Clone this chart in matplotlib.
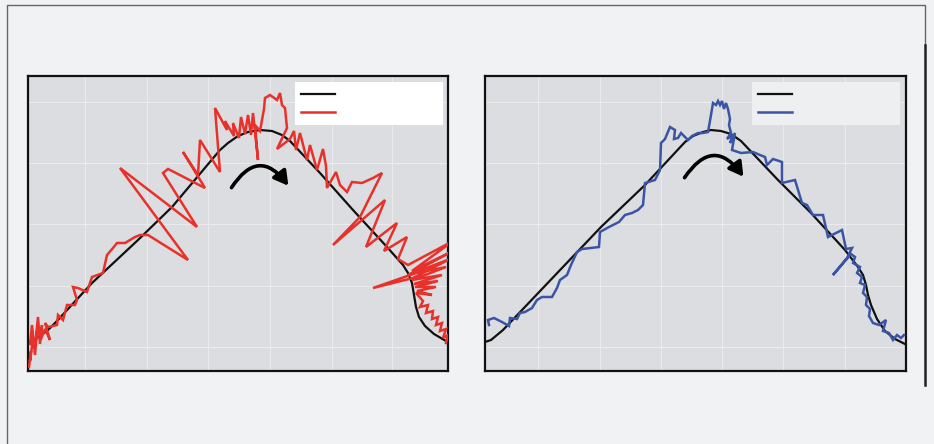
import matplotlib
matplotlib.use("Agg")
import matplotlib.pyplot as plt
from matplotlib.lines import Line2D
from matplotlib.patches import FancyArrowPatch

# reference path and tracked paths, in mm (axes span about 420 x 295)
ref_left_x = [1, 6, 12, 20, 28, 64, 110, 144, 192, 200, 210, 220, 232, 244,
              254, 262, 292, 325, 359, 375, 380, 384, 386, 388, 391, 397, 406, 418]
ref_left_y = [29, 31, 35, 41, 49, 88, 131, 164, 221, 228, 235, 239, 241, 240,
              236, 230, 198, 161, 124, 106, 98, 88, 76, 64, 54, 45, 37, 30]

ref_right_x = [0, 6, 12, 18, 116, 160, 200, 208, 218, 226, 236, 246, 256, 293,
               326, 360, 373, 378, 381, 383, 386, 392, 400, 410, 420]
ref_right_y = [29, 31, 36, 41, 144, 186, 229, 235, 239, 241, 240, 237, 230, 191,
               158, 121, 104, 96, 86, 76, 66, 52, 40, 32, 27]

red_x = [1, 3, 2, 5, 2, 4, 7, 9, 7, 10, 12, 14, 13, 17, 22, 17, 20,
         29, 30, 35, 39, 47, 49, 45, 50, 59, 64, 75, 79, 85, 89, 97, 107, 112, 120,
         160, 92, 169, 135, 140, 146, 177, 155, 170, 172, 192, 187,
         199, 197, 206, 205, 211, 213, 217, 220, 223, 225, 230, 227, 232,
         236, 237, 242, 249, 252, 254, 257, 259,
         249, 262, 266, 268, 272, 279, 282, 289, 295, 298, 299, 308, 312, 319,
         324, 334, 345, 354,
         332, 305, 357, 338, 369, 356, 379, 370,
         380, 425, 384, 425, 380, 422, 385, 345, 388, 418, 384, 414, 386, 410,
         387, 408, 389, 404, 388, 395, 392, 400, 398, 405, 404, 410, 408, 414,
         412, 418, 415, 420, 418]
red_y = [4, 20, 10, 32, 26, 46, 16, 40, 24, 54, 27, 46, 32, 42, 31, 48, 44,
         46, 56, 51, 66, 66, 71, 84, 83, 79, 94, 98, 116, 123, 128, 128, 134, 136, 136,
         111, 203, 144, 198, 202, 199, 183, 219, 196, 231, 199, 263,
         241, 250, 235, 248, 233, 254, 237, 256, 236, 258, 211, 246, 240,
         262, 273, 276, 271, 278, 266, 263, 243,
         222, 232, 240, 221, 238, 211, 226, 201, 222, 205, 183, 199, 186, 179,
         189, 188, 193, 198,
         154, 126, 171, 124, 148, 120, 134, 112,
         106, 130, 100, 120, 96, 112, 93, 83, 98, 104, 91, 96, 87, 90,
         84, 84, 80, 76, 78, 70, 64, 66, 58, 60, 52, 54, 46, 48,
         40, 42, 33, 36, 28]

blue_x = [4, 3, 9, 17, 24, 25, 32, 35, 40, 47, 52, 57, 67, 72, 75, 82, 86, 92,
          97, 114, 115, 124, 134, 140, 147, 153, 158, 160, 170, 175, 176, 180,
          185, 190, 189, 193, 196, 203, 207, 213, 218, 223, 226, 228, 231, 233,
          235, 237, 239, 241, 243, 245, 244, 246, 242, 248, 245, 250, 247, 256,
          268, 275, 280, 282, 288, 297, 297, 310, 317, 322, 328, 338, 343, 357,
          361, 367, 362, 348, 366, 370, 368, 375, 372, 377, 375, 380, 378, 382,
          381, 385, 384, 388, 394, 401, 398, 404, 408, 412, 416, 419]
blue_y = [46, 51, 53, 49, 45, 53, 52, 58, 59, 63, 71, 74, 74, 83, 91, 96, 106,
          119, 122, 124, 139, 144, 149, 156, 158, 161, 166, 188, 191, 201, 228,
          232, 244, 241, 232, 233, 238, 231, 235, 238, 238, 239, 256, 268, 266,
          270, 266, 270, 262, 268, 262, 252, 246, 238, 232, 236, 228, 238, 221,
          218, 219, 216, 214, 206, 212, 209, 188, 191, 168, 166, 156, 156, 134,
          141, 122, 123, 113, 96, 117, 114, 108, 104, 98, 94, 88, 86, 78, 74,
          66, 62, 55, 48, 46, 51, 40, 38, 31, 36, 33, 36]

grid_left_x = [57, 119, 180, 242, 304, 364]
grid_right_x = [53, 115, 176, 237, 298, 360]
grid_y = [24, 85, 147, 208, 269]

# curved arrows: start, end
arrow_left = ((202, 181), (262, 183))
arrow_right = ((198, 191), (260, 192))

BG = '#f1f2f4'
AX_BG = '#dcdde0'
RED = '#e8312a'
BLUE = '#3a55a6'

fig = plt.figure(figsize=(9.34, 4.44), dpi=100, facecolor=BG)


def panel(rect, width, rx, ry, tx, ty, color, gx, arrow, legend_face):
    ax = fig.add_axes(rect)
    ax.set_facecolor(AX_BG)
    ax.set_xlim(0, width)
    ax.set_ylim(0, 295)
    ax.set_xticks(gx)
    ax.set_yticks(grid_y)
    ax.set_xticklabels([])
    ax.set_yticklabels([])
    ax.tick_params(length=0)
    ax.grid(color='#eaebed', linewidth=0.8)
    ax.set_axisbelow(True)
    for s in ax.spines.values():
        s.set_linewidth(1.6)
        s.set_color('#111111')
    ax.plot(rx, ry, color='#111111', lw=1.6, label=' ', zorder=3)
    ax.plot(tx, ty, color=color, lw=1.8, label=' ', zorder=4,
            solid_joinstyle='miter')
    arr = FancyArrowPatch(arrow[0], arrow[1], connectionstyle='arc3,rad=-0.75',
                          arrowstyle='-|>,head_length=0.7,head_width=0.4',
                          mutation_scale=12, lw=2.6, color='black', zorder=5)
    ax.add_patch(arr)
    leg = ax.legend(loc='upper left', mode='expand',
                    bbox_to_anchor=(267 / width, 243 / 295, 148 / width, 46 / 295),
                    borderaxespad=0, fontsize=10, handlelength=2.5,
                    borderpad=0.4, labelspacing=0.3, fancybox=False,
                    framealpha=1, facecolor=legend_face, edgecolor=legend_face)
    leg.get_frame().set_linewidth(0)
    return ax


panel([28 / 934, 1 - 371 / 444, 420 / 934, 295 / 444], 420,
      ref_left_x, ref_left_y, red_x, red_y, RED, grid_left_x, arrow_left, 'white')
panel([485 / 934, 1 - 371 / 444, 421 / 934, 295 / 444], 421,
      ref_right_x, ref_right_y, blue_x, blue_y, BLUE, grid_right_x, arrow_right,
      '#eeeff0')

# outer frame of the figure
fig.add_artist(Line2D([7 / 934, 7 / 934, 925 / 934, 925 / 934],
                      [0, 1 - 5 / 444, 1 - 5 / 444, 1 - 45 / 444],
                      transform=fig.transFigure, color='#666666', lw=1.0))
fig.add_artist(Line2D([925 / 934, 925 / 934], [1 - 45 / 444, 1 - 385 / 444],
                      transform=fig.transFigure, color='#222222', lw=1.8))

fig.savefig('out.png', dpi=100, facecolor=BG)
